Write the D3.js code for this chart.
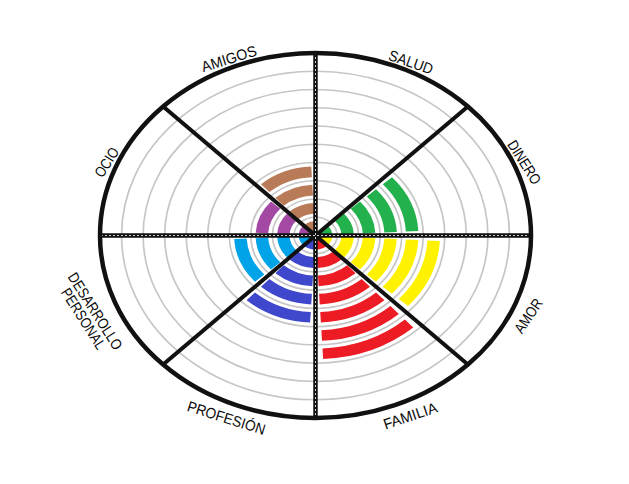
<!DOCTYPE html>
<html><head><meta charset="utf-8">
<script src="https://cdn.jsdelivr.net/npm/d3@7"></script>
<style>html,body{margin:0;background:#fff;} svg{display:block}</style>
</head><body>
<svg id="c" width="629" height="484"></svg>
<script>
// ---- data ----
const categories = ["SALUD", "DINERO", "AMOR", "FAMILIA", "PROFESIÓN", "DESARROLLO PERSONAL", "OCIO", "AMIGOS"];
const values = [0, 5, 6, 7, 5, 4, 3, 4];
const colors = ["#ff7f27", "#22b14c", "#fff200", "#ed1c24", "#3f48cc", "#00a2e8", "#a349a4", "#b97a57"];
const ringLevels = [1, 2, 3, 4, 5, 6, 7, 8, 9];
const maxLevel = 10;

// ---- layout / style ----
const svg = d3.select("#c");
const cx = 315.5, cy = 235.5, RX = 215.5, RY = 182.5;
const rX = d3.scaleLinear().domain([0, maxLevel]).range([0, RX]);
const rY = d3.scaleLinear().domain([0, maxLevel]).range([0, RY]);
const rU = d3.scaleLinear().domain([0, maxLevel]).range([0, 100]); // unit circle space, stretched to ellipse
const angle = d3.scaleLinear().domain([0, categories.length]).range([0, 2 * Math.PI]);
const labelLen = {"AMIGOS": 57, "SALUD": 46, "DINERO": 49, "AMOR": 38, "FAMILIA": 56, "PROFESIÓN": 81, "OCIO": 32, "DESARROLLO": 88, "PERSONAL": 69};
const labelShift = {"SALUD": 2.5, "FAMILIA": -1.5, "AMOR": 1.5}; // degrees, small nudges

svg.append("rect").attr("width", 629).attr("height", 484).attr("fill", "#fff");

// grey rings
svg.append("g").selectAll("ellipse").data(ringLevels).join("ellipse")
  .attr("cx", cx).attr("cy", cy)
  .attr("rx", d => rX(d)).attr("ry", d => rY(d))
  .attr("fill", "none").attr("stroke", "#c6c6c6").attr("stroke-width", 1.7);

// coloured bands
const bands = [];
categories.forEach((c, i) => { for (let k = 1; k <= values[i]; k++) bands.push({i, k}); });
const pad = 3 * Math.PI / 180;
const arc = d3.arc()
  .innerRadius(d => rU(d.k - 0.8))
  .outerRadius(d => rU(d.k - 0.22))
  .startAngle(d => angle(d.i) + pad)
  .endAngle(d => angle(d.i + 1) - pad);
svg.append("g")
  .attr("transform", `translate(${cx},${cy}) scale(${RX / 100},${RY / 100})`)
  .selectAll("path").data(bands).join("path")
  .attr("d", arc).attr("fill", d => colors[d.i]);

// spokes
const spokes = d3.range(categories.length / 2);
const sp = svg.append("g");
sp.selectAll("line").data(spokes).join("line")
  .attr("x1", d => cx + rX(maxLevel) * Math.sin(angle(d)))
  .attr("y1", d => cy - rY(maxLevel) * Math.cos(angle(d)))
  .attr("x2", d => cx - rX(maxLevel) * Math.sin(angle(d)))
  .attr("y2", d => cy + rY(maxLevel) * Math.cos(angle(d)))
  .attr("stroke", "#111").attr("stroke-width", d => d % 2 === 0 ? 4.5 : 4);
sp.selectAll("line.in").data(spokes.filter(d => d % 2 === 0)).join("line").attr("class", "in")
  .attr("x1", d => cx + rX(maxLevel) * Math.sin(angle(d)))
  .attr("y1", d => cy - rY(maxLevel) * Math.cos(angle(d)))
  .attr("x2", d => cx - rX(maxLevel) * Math.sin(angle(d)))
  .attr("y2", d => cy + rY(maxLevel) * Math.cos(angle(d)))
  .attr("stroke", "#fff").attr("stroke-width", 1).attr("stroke-dasharray", "2,2").attr("opacity", 0.8);

// outer ellipse
svg.append("ellipse").attr("cx", cx).attr("cy", cy)
  .attr("rx", rX(maxLevel)).attr("ry", rY(maxLevel))
  .attr("fill", "none").attr("stroke", "#111").attr("stroke-width", 4.5);

// labels
const lg = svg.append("g")
  .attr("font-family", "'Liberation Sans Narrow','Arial Narrow','Liberation Sans',Arial,sans-serif")
  .attr("font-size", 15).attr("fill", "#0a0a0a");
categories.forEach((c, i) => {
  const mid = angle(i + 0.5) + (labelShift[c] || 0) * Math.PI / 180;
  const upper = Math.cos(mid) > 0;
  const lines = c.split(" ");
  const f = lines.length > 1 ? 1.135 : (upper ? 1.05 : 1.08);
  const x = cx + f * rX(maxLevel) * Math.sin(mid);
  const y = cy - f * rY(maxLevel) * Math.cos(mid);
  const s = upper ? 1 : -1;
  const dx = s * RX * Math.cos(mid), dy = s * RY * Math.sin(mid);
  const rot = Math.atan2(dy, dx) * 180 / Math.PI * 0.9;
  const g = lg.append("g").attr("transform", `translate(${x},${y}) rotate(${rot})`);
  lines.forEach((t, j) => {
    g.append("text").text(t)
      .attr("x", 0).attr("y", (j - (lines.length - 1) / 2) * 14)
      .attr("text-anchor", "middle").attr("dominant-baseline", "central")
      .attr("textLength", labelLen[t]).attr("lengthAdjust", "spacingAndGlyphs");
  });
});
</script>
</body></html>
